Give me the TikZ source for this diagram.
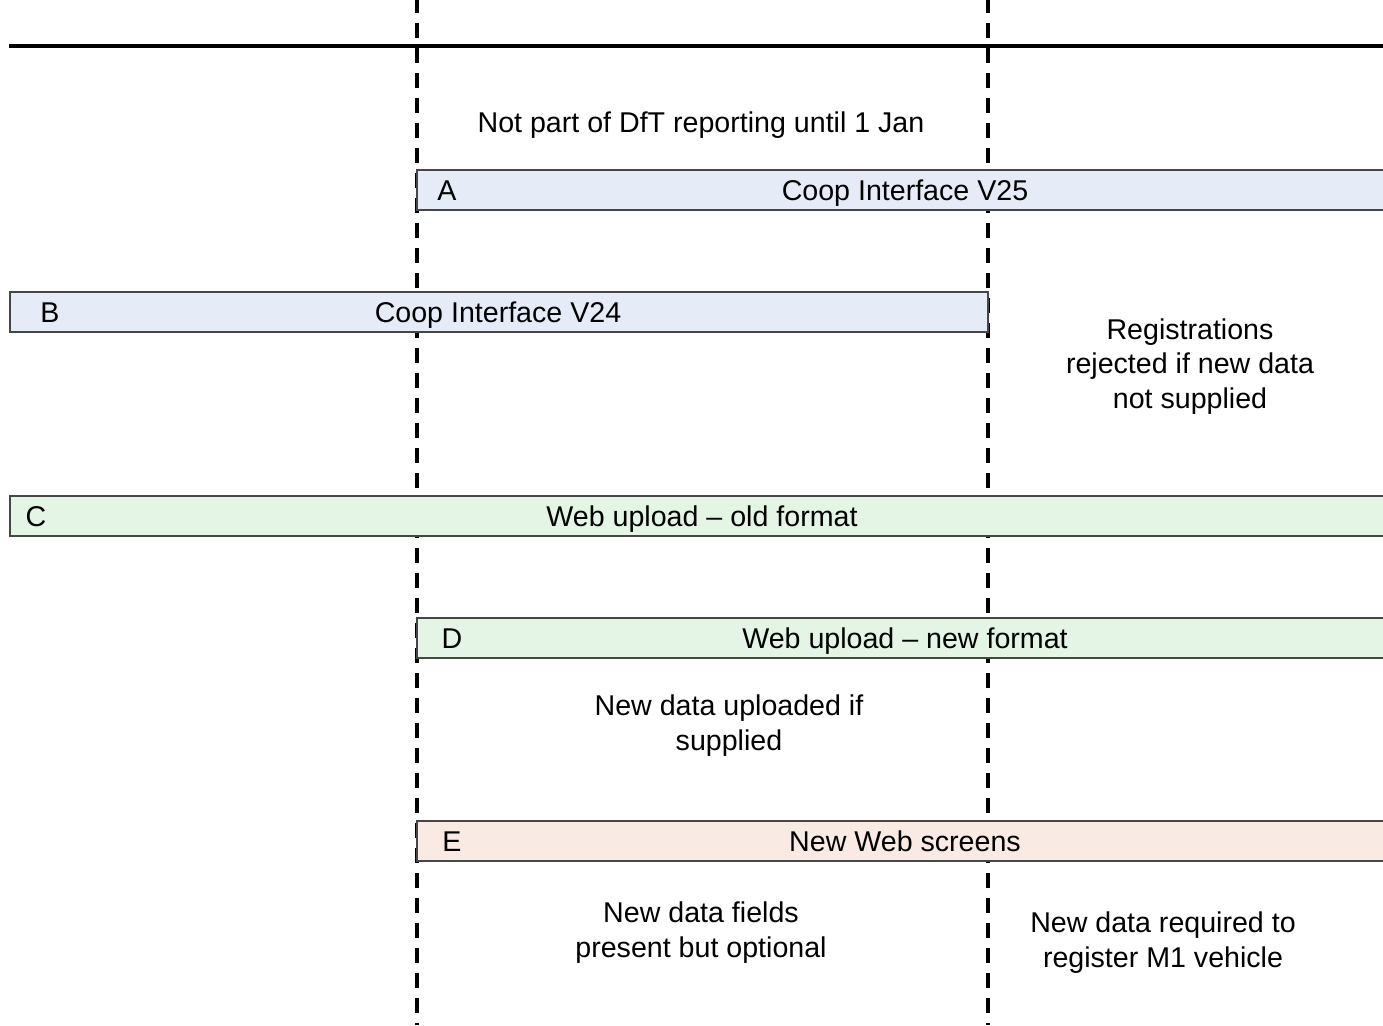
\documentclass[tikz,border=0pt]{standalone}
\usepackage{fontspec}
\setmainfont{Liberation Sans}
\definecolor{barblue}{RGB}{230,236,247}
\definecolor{bargreen}{RGB}{229,245,229}
\definecolor{barpink}{RGB}{249,234,228}
\definecolor{bardraw}{RGB}{70,70,70}
\begin{document}
\begin{tikzpicture}[x=1pt,y=-1pt,
  every node/.style={font=\fontsize{28.6}{34.5}\selectfont, inner sep=0pt, outer sep=0pt},
  bar/.style={draw=bardraw, line width=1.3pt, minimum height=40pt, anchor=north west, rectangle},
  bartext/.style={anchor=base},
  note/.style={anchor=base, align=center},
  divider/.style={line width=3.2pt, dash pattern=on 15pt off 10pt, dash phase=2pt},
  topline/.style={line width=3.2pt}]
\useasboundingbox (0,0) rectangle (1383,1025);
% dividers
\coordinate (d1top) at (417,0);
\coordinate (d1bot) at (417,1025);
\coordinate (d2top) at (988,0);
\coordinate (d2bot) at (988,1025);
\draw[divider] (d1top) -- (d1bot);
\draw[divider] (d2top) -- (d2bot);
% top line
\coordinate (tl) at (9,46);
\coordinate (tr) at (1383,46);
\draw[topline] (tl) -- (tr);
% bars
\node[bar, fill=barblue, minimum width=976pt] (barA) at (417,170) {};
\node[bar, fill=barblue, minimum width=978pt] (barB) at (10,292) {};
\node[bar, fill=bargreen, minimum width=1383pt] (barC) at (10,496) {};
\node[bar, fill=bargreen, minimum width=976pt] (barD) at (417,618) {};
\node[bar, fill=barpink, minimum width=976pt] (barE) at (417,821) {};
% bar labels
\node[bartext] (lA) at (447,200) {A};
\node[bartext] (tA) at (905,200) {Coop Interface V25};
\node[bartext] (lB) at (50,322) {B};
\node[bartext] (tB) at (498,322) {Coop Interface V24};
\node[bartext] (lC) at (36,526) {C};
\node[bartext] (tC) at (702,526) {Web upload – old format};
\node[bartext] (lD) at (452,648) {D};
\node[bartext] (tD) at (905,648) {Web upload – new format};
\node[bartext] (lE) at (452,851) {E};
\node[bartext] (tE) at (905,851) {New Web screens};
% notes (base anchor = last line baseline)
\node[note] (n1) at (701,132) {Not part of DfT reporting until 1 Jan};
\node[note] (n2) at (1190,408) {Registrations\\rejected if new data\\not supplied};
\node[note] (n3) at (729,750) {New data uploaded if\\supplied};
\node[note] (n4) at (701,957) {New data fields\\present but optional};
\node[note] (n5) at (1163,967) {New data required to\\register M1 vehicle};
\end{tikzpicture}
\end{document}
